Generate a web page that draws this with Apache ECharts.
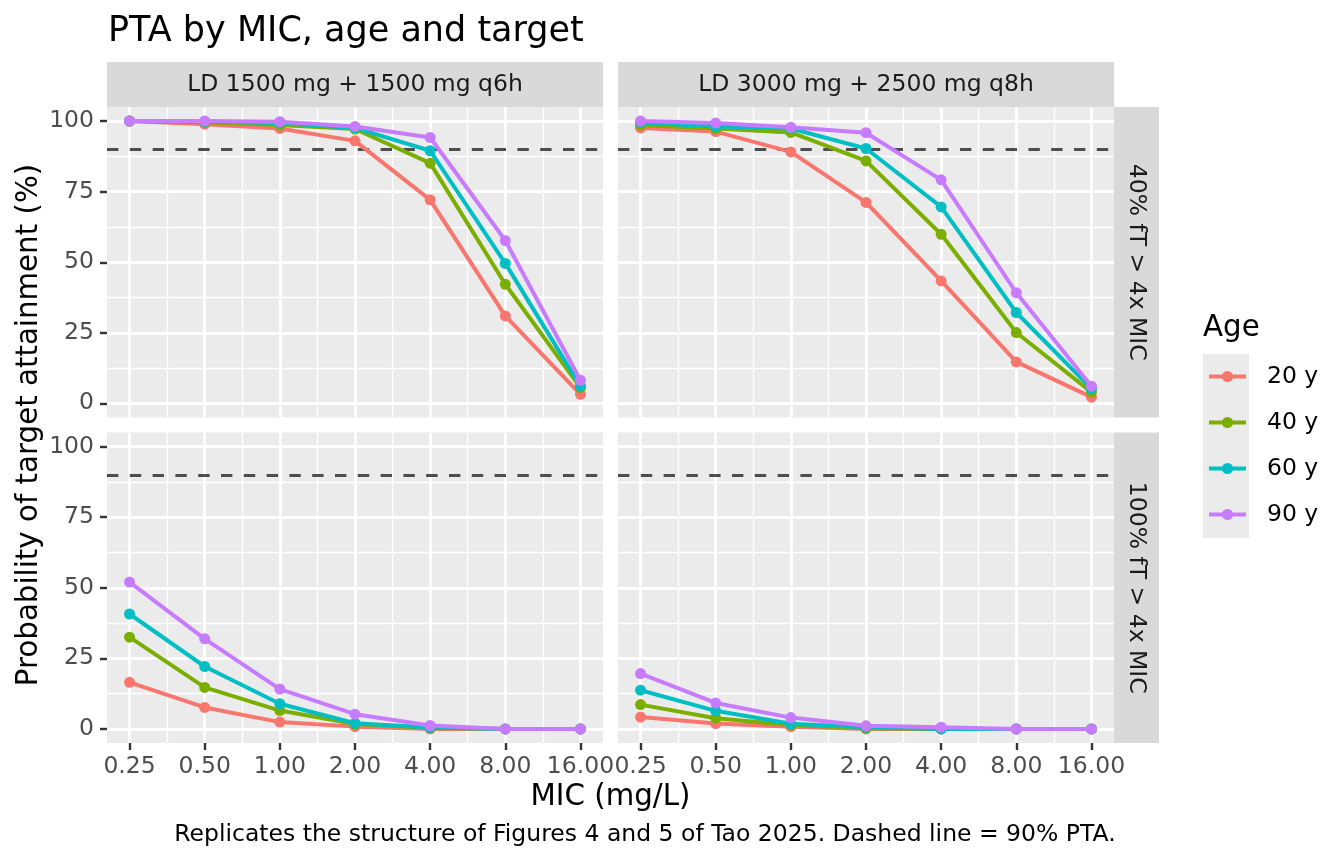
<!DOCTYPE html>
<html>
<head>
<meta charset="utf-8">
<script src="https://cdn.jsdelivr.net/npm/echarts@6/dist/echarts.min.js"></script>
<style>
html,body{margin:0;padding:0;background:#fff;}
#chart{width:1344px;height:864px;}
</style>
</head>
<body>
<div id="chart"></div>
<script>
// ---------------- data ----------------
const micValues = [0.25, 0.5, 1, 2, 4, 8, 16];
const ageGroups = ['20 y', '40 y', '60 y', '90 y'];
const ageColors = ['#F8766D', '#7CAE00', '#00BFC4', '#C77CFF'];
const regimens = ['LD 1500 mg + 1500 mg q6h', 'LD 3000 mg + 2500 mg q8h'];
const targets = ['40% fT > 4x MIC', '100% fT > 4x MIC'];
const yTickValues = [0, 25, 50, 75, 100];
const yMinorValues = [12.5, 37.5, 62.5, 87.5];
const ptaThreshold = 90;

// 40% fT > 4x MIC, LD 1500 mg + 1500 mg q6h
const pta40_reg1_20y = [100, 98.9, 97.4, 93.0, 72.1, 31.0, 3.2];
const pta40_reg1_40y = [100, 99.6, 98.6, 97.2, 85.1, 42.2, 5.6];
const pta40_reg1_60y = [100, 99.9, 99.3, 97.6, 89.5, 49.6, 6.1];
const pta40_reg1_90y = [100, 100, 99.8, 98.1, 94.2, 57.7, 8.2];
// 40% fT > 4x MIC, LD 3000 mg + 2500 mg q8h
const pta40_reg2_20y = [97.6, 96.3, 89.1, 71.2, 43.4, 14.7, 2.2];
const pta40_reg2_40y = [98.6, 97.4, 96.0, 85.9, 59.9, 25.1, 4.0];
const pta40_reg2_60y = [99.5, 98.1, 97.4, 90.3, 69.6, 32.2, 5.2];
const pta40_reg2_90y = [100, 99.3, 97.8, 95.9, 79.2, 39.2, 6.1];
// 100% fT > 4x MIC, LD 1500 mg + 1500 mg q6h
const pta100_reg1_20y = [16.5, 7.6, 2.4, 0.8, 0.0, 0.0, 0.0];
const pta100_reg1_40y = [32.5, 14.7, 6.5, 1.7, 0.3, 0.0, 0.0];
const pta100_reg1_60y = [40.7, 22.1, 8.9, 2.0, 0.5, 0.0, 0.0];
const pta100_reg1_90y = [52.0, 31.9, 14.1, 5.2, 1.2, 0.0, 0.0];
// 100% fT > 4x MIC, LD 3000 mg + 2500 mg q8h
const pta100_reg2_20y = [4.2, 1.9, 0.8, 0.0, 0.0, 0.0, 0.0];
const pta100_reg2_40y = [8.6, 3.8, 1.4, 0.2, 0.0, 0.0, 0.0];
const pta100_reg2_60y = [13.7, 6.4, 1.8, 0.6, 0.0, 0.0, 0.0];
const pta100_reg2_90y = [19.6, 9.2, 4.0, 1.1, 0.6, 0.0, 0.0];

// panels: [row][col]
const panelData = [
  [[pta40_reg1_20y, pta40_reg1_40y, pta40_reg1_60y, pta40_reg1_90y],
   [pta40_reg2_20y, pta40_reg2_40y, pta40_reg2_60y, pta40_reg2_90y]],
  [[pta100_reg1_20y, pta100_reg1_40y, pta100_reg1_60y, pta100_reg1_90y],
   [pta100_reg2_20y, pta100_reg2_40y, pta100_reg2_60y, pta100_reg2_90y]]
];

// ---------------- layout ----------------
const FONT = 'DejaVu Sans';
const colLeft = [107, 618];
const panelW = 496;
const rowTop = [107, 432.5];
const panelH = 310.5;
const stripTop = 62;
const stripH = 45;
const stripRightX = 1114;
const stripRightW = 45;

const xTickValues = micValues.map(Math.log2);
const xMinorValues = xTickValues.slice(0, -1).map(v => v + 0.5);
const xMin = Math.log2(micValues[0]) - 0.3;
const xMax = Math.log2(micValues[micValues.length - 1]) + 0.3;

const grids = [], xAxes = [], yAxes = [], series = [];
let gi = 0;
for (let r = 0; r < 2; r++) {
  for (let c = 0; c < 2; c++) {
    grids.push({left: colLeft[c], top: rowTop[r], width: panelW, height: panelH,
      show: true, backgroundColor: '#EBEBEB', borderWidth: 0, containLabel: false});
    const isBottom = r === 1, isLeft = c === 0;
    // minor x
    xAxes.push({type: 'value', gridIndex: gi, min: xMin, max: xMax, position: 'bottom',
      axisLine: {show: false, onZero: false}, axisLabel: {show: false, customValues: xMinorValues},
      axisTick: {show: false, customValues: xMinorValues},
      splitLine: {show: true, lineStyle: {color: '#FFFFFF', width: 1.4}}, z: 0});
    // major x
    xAxes.push({type: 'value', gridIndex: gi, min: xMin, max: xMax, position: 'bottom',
      axisLine: {show: false, onZero: false},
      axisTick: {show: isBottom, customValues: xTickValues, length: 7,
        lineStyle: {color: '#333333', width: 2.4}},
      axisLabel: {show: isBottom, customValues: xTickValues, margin: 12,
        fontFamily: FONT, fontSize: 23.5, color: '#4D4D4D',
        formatter: v => Math.pow(2, v).toFixed(2)},
      splitLine: {show: true, lineStyle: {color: '#FFFFFF', width: 2.8}}, z: 1});
    // minor y
    yAxes.push({type: 'value', gridIndex: gi, min: -5, max: 105, position: 'left',
      axisLine: {show: false, onZero: false}, axisLabel: {show: false, customValues: yMinorValues},
      axisTick: {show: false, customValues: yMinorValues},
      splitLine: {show: true, lineStyle: {color: '#FFFFFF', width: 1.4}}, z: 0});
    // major y
    yAxes.push({type: 'value', gridIndex: gi, min: -5, max: 105, position: 'left',
      axisLine: {show: false, onZero: false},
      axisTick: {show: isLeft, customValues: yTickValues, length: 7,
        lineStyle: {color: '#333333', width: 2.4}},
      axisLabel: {show: isLeft, customValues: yTickValues, margin: 13,
        fontFamily: FONT, fontSize: 23.5, color: '#4D4D4D'},
      splitLine: {show: true, lineStyle: {color: '#FFFFFF', width: 2.8}}, z: 1});
    const vals = panelData[r][c];
    for (let a = 0; a < ageGroups.length; a++) {
      const s = {
        name: ageGroups[a], type: 'line', xAxisIndex: gi * 2 + 1, yAxisIndex: gi * 2 + 1,
        data: micValues.map((m, i) => [Math.log2(m), vals[a][i]]),
        symbol: 'circle', symbolSize: 11, showSymbol: true,
        itemStyle: {color: ageColors[a]},
        lineStyle: {color: ageColors[a], width: 4},
        emphasis: {disabled: true}, z: 3 + a
      };
      if (a === 0) {
        s.markLine = {silent: true, symbol: ['none', 'none'], label: {show: false},
          lineStyle: {color: '#4D4D4D', width: 2.8, type: [11.4, 11.4]},
          data: [{yAxis: ptaThreshold}], z: 2};
      }
      series.push(s);
    }
    gi++;
  }
}

const graphics = [];
// title
graphics.push({type: 'text', left: 108, top: 14, style: {text: 'PTA by MIC, age and target',
  font: '35px "' + FONT + '"', fill: '#000'}});
// column strips
for (let c = 0; c < 2; c++) {
  graphics.push({type: 'rect', shape: {x: colLeft[c], y: stripTop, width: panelW, height: stripH},
    style: {fill: '#D9D9D9'}, z: -1});
  graphics.push({type: 'text', x: colLeft[c] + panelW / 2, y: stripTop + stripH / 2,
    style: {text: regimens[c], font: '23.5px "' + FONT + '"', fill: '#1A1A1A',
      align: 'center', verticalAlign: 'middle'}});
}
// row strips
for (let r = 0; r < 2; r++) {
  graphics.push({type: 'rect', shape: {x: stripRightX, y: rowTop[r], width: stripRightW, height: panelH},
    style: {fill: '#D9D9D9'}, z: -1});
  graphics.push({type: 'text', x: stripRightX + stripRightW / 2, y: rowTop[r] + panelH / 2,
    rotation: -Math.PI / 2,
    style: {text: targets[r], font: '23.5px "' + FONT + '"', fill: '#1A1A1A',
      align: 'center', verticalAlign: 'middle'}});
}
// axis titles
graphics.push({type: 'text', x: (colLeft[0] + colLeft[1] + panelW) / 2, y: 797,
  style: {text: 'MIC (mg/L)', font: '29.3px "' + FONT + '"', fill: '#000',
    align: 'center', verticalAlign: 'middle'}});
graphics.push({type: 'text', x: 29, y: (rowTop[0] + rowTop[1] + panelH) / 2, rotation: Math.PI / 2,
  style: {text: 'Probability of target attainment (%)', font: '29.3px "' + FONT + '"', fill: '#000',
    align: 'center', verticalAlign: 'middle'}});
// caption
graphics.push({type: 'text', x: 645, y: 835,
  style: {text: 'Replicates the structure of Figures 4 and 5 of Tao 2025. Dashed line = 90% PTA.',
    font: '23.5px "' + FONT + '"', fill: '#000', align: 'center', verticalAlign: 'middle'}});
// legend
graphics.push({type: 'text', x: 1203, y: 328,
  style: {text: 'Age', font: '29.3px "' + FONT + '"', fill: '#000', align: 'left', verticalAlign: 'middle'}});
graphics.push({type: 'rect', shape: {x: 1203, y: 354, width: 46, height: 184},
  style: {fill: '#EBEBEB'}, z: -1});

const chart = echarts.init(document.getElementById('chart'), null, {renderer: 'canvas'});
chart.setOption({
  animation: false,
  backgroundColor: '#FFFFFF',
  grid: grids,
  xAxis: xAxes,
  yAxis: yAxes,
  series: series,
  legend: {
    data: ageGroups, orient: 'vertical', left: 1207, top: 363.5, padding: 0,
    itemWidth: 37, itemHeight: 14, itemGap: 20, selectedMode: false,
    lineStyle: {width: 4},
    textStyle: {fontFamily: FONT, fontSize: 23.5, color: '#000', lineHeight: 26, padding: [0, 0, 0, 16]}
  },
  graphic: graphics
});
</script>
</body>
</html>
